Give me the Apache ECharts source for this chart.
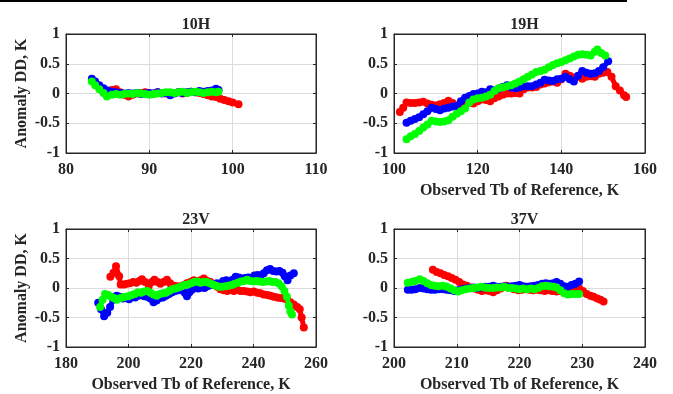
<!DOCTYPE html>
<html><head><meta charset="utf-8">
<script src="https://cdn.jsdelivr.net/npm/echarts@6/dist/echarts.min.js"></script>
<style>html,body{margin:0;padding:0;background:#fff}#c{width:673px;height:394px}</style>
</head><body><div id="c"></div>
<script>
const panelTitles = ['10H', '19H', '23V', '37V'];
const xRanges = [[80, 110, 10], [100, 160, 20], [180, 260, 20], [200, 240, 10]];
const yRange = [-1, 1, 0.5];
const xName = 'Observed Tb of Reference, K';
const yName = 'Anomaly DD, K';

// 10H
const red10H = [[84.5,0.02],[85,0.04],[85.5,0.06],[86,0.07],[86.5,0.02],[87,-0.02],[87.5,-0.05],[88,-0.02],[88.5,0.0],[89,0.01],[89.5,0.02],[90,-0.01],[90.5,0.0],[91,0.02],[91.5,0.01],[92,0.0],[92.5,-0.01],[93,0.01],[93.5,0.02],[94,0.0],[94.5,0.01],[95,0.03],[95.5,0.02],[96,0.01],[96.5,-0.01],[97,-0.03],[97.5,-0.05],[98,-0.06],[98.5,-0.09],[99,-0.11],[99.5,-0.13],[100,-0.15],[100.7,-0.18]];
const blue10H = [[83.1,0.25],[83.5,0.2],[84,0.14],[84.5,0.09],[85,0.05],[85.5,0.03],[86,0.02],[86.5,0.01],[87,0.0],[87.5,0.01],[88,0.0],[88.5,0.01],[89,-0.01],[89.5,0.0],[90,0.01],[90.5,0.0],[91,0.02],[91.5,0.0],[92,0.01],[92.5,-0.03],[93,0.0],[93.5,0.02],[94,0.01],[94.5,0.02],[95,0.03],[95.5,0.02],[96,0.04],[96.5,0.03],[97,0.04],[97.5,0.05],[98,0.08],[98.3,0.06]];
const green10H = [[83.1,0.2],[83.5,0.14],[84,0.07],[84.5,0.01],[84.9,-0.05],[85.5,-0.02],[86,-0.01],[86.5,-0.02],[87,-0.01],[87.5,0.0],[88,-0.01],[88.5,0.01],[89,0.0],[89.5,-0.01],[90,-0.02],[90.5,-0.01],[91,0.0],[91.5,0.01],[92,0.02],[92.5,0.02],[93,0.01],[93.5,0.02],[94,0.03],[94.5,0.01],[95,0.02],[95.5,0.03],[96,0.02],[96.5,0.01],[97,0.02],[97.5,0.03],[98,0.02],[98.3,0.03]];

// 19H
const red19H = [[101.4,-0.31],[102.2,-0.24],[103,-0.15],[104,-0.16],[105,-0.16],[106,-0.15],[107,-0.14],[108,-0.17],[109,-0.19],[110,-0.2],[111,-0.18],[112,-0.16],[113,-0.12],[114,-0.16],[115,-0.2],[116,-0.2],[117,-0.18],[118,-0.15],[119,-0.17],[120,-0.13],[121,-0.1],[122,-0.11],[123,-0.13],[124,-0.08],[125,-0.05],[126,-0.02],[127,0.0],[128,0.0],[129,0.01],[130,0.0],[131,0.07],[132,0.1],[133,0.1],[134,0.11],[135,0.15],[136,0.17],[137,0.19],[138,0.2],[139,0.18],[140,0.24],[141,0.33],[142,0.3],[143,0.27],[144,0.28],[145,0.25],[146,0.28],[147,0.29],[148,0.28],[149,0.33],[150,0.35],[151,0.36],[152,0.28],[153,0.12],[154,0.05],[155,-0.03],[155.5,-0.06]];
const blue19H = [[103,-0.49],[104,-0.46],[105,-0.43],[106,-0.4],[107,-0.35],[108,-0.3],[109,-0.24],[110,-0.26],[111,-0.28],[112,-0.25],[113,-0.24],[114,-0.22],[115,-0.21],[116,-0.13],[117,-0.07],[118,-0.04],[119,-0.01],[120,0.0],[121,0.03],[122,0.02],[123,0.07],[124,0.05],[125,0.08],[126,0.11],[127,0.14],[128,0.1],[129,0.09],[130,0.1],[131,0.12],[132,0.12],[133,0.12],[134,0.15],[135,0.18],[136,0.23],[137,0.22],[138,0.21],[139,0.24],[140,0.25],[141,0.28],[142,0.24],[143,0.2],[144,0.3],[145,0.38],[146,0.35],[147,0.33],[148,0.34],[149,0.38],[150,0.44],[151.2,0.54]];
const green19H = [[103,-0.77],[104,-0.72],[105,-0.68],[106,-0.63],[107,-0.57],[108,-0.52],[109,-0.46],[110,-0.47],[111,-0.48],[112,-0.47],[113,-0.45],[114,-0.39],[115,-0.34],[116,-0.3],[117,-0.25],[118,-0.15],[119,-0.1],[120,-0.08],[121,-0.07],[122,-0.05],[123,-0.02],[124,0.04],[125,0.09],[126,0.1],[127,0.12],[128,0.14],[129,0.17],[130,0.2],[131,0.24],[132,0.28],[133,0.32],[134,0.36],[135,0.38],[136,0.4],[137,0.44],[138,0.48],[139,0.51],[140,0.53],[141,0.56],[142,0.59],[143,0.62],[144,0.65],[145,0.66],[146,0.65],[147,0.64],[148,0.7],[148.6,0.74],[149.5,0.68],[150.5,0.64]];

// 23V
const red23V = [[194.2,0.19],[195.2,0.26],[196,0.37],[197,0.2],[197.5,0.06],[198.5,0.06],[199.5,0.07],[200.5,0.08],[201.5,0.1],[202.5,0.09],[203.5,0.12],[204.3,0.15],[205.3,0.1],[206.5,0.04],[207.5,0.1],[208.3,0.14],[209.3,0.1],[210.2,0.07],[211.2,0.1],[212.3,0.14],[213.3,0.08],[214.5,0.04],[215.5,0.03],[216.6,0.03],[217.7,0.05],[218.7,0.08],[219.8,0.1],[220.9,0.13],[222,0.12],[223,0.13],[224.1,0.16],[225.2,0.12],[226.2,0.1],[227.3,0.06],[228.4,0.02],[229.4,-0.02],[230.5,-0.04],[231.6,-0.05],[232.6,-0.03],[233.7,-0.05],[234.8,-0.03],[235.8,-0.05],[236.9,-0.05],[238,-0.06],[239,-0.07],[240.1,-0.06],[241.2,-0.08],[242.2,-0.09],[243.3,-0.11],[244.4,-0.12],[245.4,-0.13],[246.5,-0.15],[247.6,-0.16],[248.6,-0.17],[249.7,-0.18],[250.8,-0.2],[251.8,-0.24],[252.9,-0.28],[254,-0.32],[254.8,-0.36],[255.4,-0.5],[256.1,-0.67]];
const blue23V = [[190.3,-0.25],[191.2,-0.36],[192.2,-0.48],[193.2,-0.42],[194.1,-0.32],[195.1,-0.2],[196.2,-0.13],[197.2,-0.15],[198.2,-0.18],[199.2,-0.17],[200.2,-0.19],[201.1,-0.15],[202.1,-0.16],[203.1,-0.13],[204,-0.12],[205,-0.14],[206,-0.15],[207,-0.18],[208,-0.24],[209,-0.21],[210,-0.17],[211,-0.16],[212,-0.13],[213,-0.1],[214,-0.07],[215,-0.05],[216,-0.04],[217,-0.03],[218,-0.08],[218.7,-0.14],[219.5,-0.07],[220.3,-0.03],[221.3,0.0],[222.3,-0.01],[223.3,0.01],[224.3,0.0],[225.3,0.03],[226.3,0.05],[227.3,0.06],[228.3,0.08],[229.3,0.07],[230.3,0.12],[231.3,0.13],[232.3,0.1],[233.3,0.14],[234.3,0.19],[235.3,0.18],[236.3,0.16],[237.3,0.17],[238.3,0.18],[239.3,0.17],[240.3,0.21],[241.3,0.22],[242.3,0.21],[243.3,0.25],[244.3,0.3],[245.3,0.32],[246.3,0.29],[247.3,0.28],[248.3,0.29],[249.3,0.26],[250,0.2],[250.9,0.13],[251.8,0.21],[252.9,0.25]];
const green23V = [[190.9,-0.32],[191.7,-0.2],[192.5,-0.1],[193.5,-0.12],[194.4,-0.15],[195.3,-0.17],[196.2,-0.2],[197.1,-0.18],[198,-0.16],[199,-0.15],[200,-0.14],[201,-0.12],[202,-0.1],[203,-0.07],[204,-0.08],[205,-0.06],[206,-0.05],[207,-0.08],[208,-0.11],[209,-0.13],[210,-0.1],[211,-0.09],[212,-0.08],[213,-0.05],[214,-0.02],[215,-0.01],[216,0.01],[217,0.03],[218,0.05],[219,0.06],[220,0.08],[221,0.1],[222,0.11],[223,0.09],[224,0.1],[225,0.1],[226,0.08],[227,0.06],[228,0.04],[229,0.02],[230,0.02],[231,0.03],[232,0.04],[233,0.05],[234,0.07],[235,0.09],[236,0.11],[237,0.12],[238,0.14],[239,0.12],[240,0.11],[241,0.12],[242,0.11],[243,0.1],[244,0.11],[245,0.12],[246,0.1],[247,0.1],[248,0.08],[249,0.03],[249.9,-0.05],[250.7,-0.15],[251.3,-0.3],[251.8,-0.4],[252.3,-0.45]];

// 37V
const red37V = [[206.2,0.31],[206.8,0.27],[207.4,0.25],[208,0.22],[208.6,0.2],[209.2,0.17],[209.8,0.14],[210.4,0.1],[211,0.06],[211.6,0.04],[212.2,0.01],[212.8,-0.01],[213.4,-0.03],[214,-0.05],[214.6,-0.04],[215.2,-0.05],[215.8,-0.07],[216.4,-0.04],[217,-0.01],[217.9,0.04],[218.5,0.01],[219.1,-0.02],[219.8,-0.04],[220.4,-0.03],[221,-0.02],[221.6,-0.03],[222.2,-0.04],[222.8,-0.03],[223.4,-0.04],[224,-0.05],[224.6,-0.04],[225.2,-0.05],[225.9,-0.06],[226.5,-0.05],[227.1,-0.06],[227.7,-0.05],[228.3,-0.04],[228.9,-0.03],[229.5,-0.01],[230.1,-0.05],[230.7,-0.1],[231.3,-0.13],[231.8,-0.15],[232.4,-0.18],[232.9,-0.2],[233.4,-0.23]];
const blue37V = [[202.2,-0.03],[202.8,-0.03],[203.4,-0.02],[204.1,0.0],[204.7,-0.01],[205.3,-0.02],[205.9,-0.03],[206.5,-0.03],[207.1,-0.02],[207.8,-0.02],[208.4,-0.03],[209,-0.04],[209.6,-0.05],[210.2,-0.04],[210.8,-0.02],[211.4,-0.01],[212.1,0.0],[212.7,0.01],[213.3,0.0],[213.9,0.01],[214.5,0.02],[215.1,0.02],[215.8,0.04],[216.4,0.02],[217,0.02],[217.6,0.03],[218.2,0.02],[218.8,0.03],[219.4,0.04],[220,0.05],[220.6,0.03],[221.2,0.02],[221.8,0.03],[222.4,0.04],[223,0.05],[223.6,0.07],[224.2,0.08],[224.8,0.07],[225.4,0.08],[225.9,0.1],[226.5,0.07],[227.1,0.03],[227.7,0.02],[228.3,0.05],[228.9,0.07],[229.5,0.11]];
const green37V = [[202.2,0.09],[202.8,0.1],[203.4,0.12],[204.1,0.15],[204.7,0.12],[205.3,0.08],[205.9,0.05],[206.5,0.04],[207.1,0.03],[207.8,0.04],[208.4,0.02],[209,-0.01],[209.6,-0.04],[210.2,-0.06],[210.8,-0.04],[211.4,-0.02],[212.1,-0.01],[212.7,0.0],[213.3,0.01],[213.9,0.02],[214.5,0.01],[215.1,0.0],[215.8,0.0],[216.4,0.01],[217,0.01],[217.6,0.02],[218.2,0.0],[218.8,0.0],[219.4,-0.01],[220,-0.02],[220.6,-0.01],[221.2,-0.02],[221.8,-0.01],[222.4,-0.02],[223,0.0],[223.6,0.03],[224.2,0.04],[224.8,0.03],[225.4,0.02],[225.9,0.01],[226.5,-0.04],[227.1,-0.09],[227.7,-0.11],[228.3,-0.1],[228.9,-0.1],[229.5,-0.1]];

const panelData = [
  [red10H, blue10H, green10H],
  [red19H, blue19H, green19H],
  [red23V, blue23V, green23V],
  [red37V, blue37V, green37V]
];
const colors = ['#ff0000', '#0000ff', '#00ff00'];

const FONT = '"Liberation Serif", "Times New Roman", serif';
const AX = '#262626';
const grids = [
  {left: 66, top: 34, width: 250, height: 119},
  {left: 394, top: 34, width: 251, height: 119},
  {left: 66, top: 229, width: 250, height: 118},
  {left: 394, top: 229, width: 251, height: 118}
];
const showXName = [false, true, true, true];
const showYName = [true, false, true, false];

const xAxis = [], yAxis = [], series = [], title = [];
grids.forEach((g, i) => {
  g.show = true; g.borderColor = AX; g.borderWidth = 1; g.backgroundColor = '#fff';
  const [mn, mx, iv] = xRanges[i];
  xAxis.push({
    type: 'value', gridIndex: i, min: mn, max: mx, interval: iv, position: 'bottom',
    name: showXName[i] ? xName : '', nameLocation: 'middle', nameGap: 30,
    nameTextStyle: {fontFamily: FONT, fontWeight: 'bold', fontSize: 16, color: AX},
    axisLine: {show: true, onZero: false, lineStyle: {color: AX}},
    axisTick: {show: true, inside: true, length: 3, lineStyle: {color: AX}},
    axisLabel: {fontFamily: FONT, fontWeight: 'bold', fontSize: 16, color: AX, margin: 9},
    splitLine: {show: true, lineStyle: {color: '#dcdcdc', width: 1}}
  });
  xAxis.push({
    type: 'value', gridIndex: i, min: mn, max: mx, interval: iv, position: 'top',
    axisLine: {show: true, onZero: false, lineStyle: {color: AX}},
    axisTick: {show: true, inside: true, length: 3, lineStyle: {color: AX}},
    axisLabel: {show: false}, splitLine: {show: false}
  });
  yAxis.push({
    type: 'value', gridIndex: i, min: yRange[0], max: yRange[1], interval: yRange[2], position: 'left',
    name: showYName[i] ? yName : '', nameLocation: 'middle', nameGap: 36,
    nameTextStyle: {fontFamily: FONT, fontWeight: 'bold', fontSize: 16, color: AX},
    axisLine: {show: true, onZero: false, lineStyle: {color: AX}},
    axisTick: {show: true, inside: true, length: 3, lineStyle: {color: AX}},
    axisLabel: {fontFamily: FONT, fontWeight: 'bold', fontSize: 16, color: AX, margin: 6},
    splitLine: {show: true, lineStyle: {color: '#dcdcdc', width: 1}}
  });
  yAxis.push({
    type: 'value', gridIndex: i, min: yRange[0], max: yRange[1], interval: yRange[2], position: 'right',
    axisLine: {show: true, onZero: false, lineStyle: {color: AX}},
    axisTick: {show: true, inside: true, length: 3, lineStyle: {color: AX}},
    axisLabel: {show: false}, splitLine: {show: false}
  });
  title.push({
    text: panelTitles[i], left: g.left + g.width / 2, top: g.top - 22, textAlign: 'center',
    textStyle: {fontFamily: FONT, fontWeight: 'bold', fontSize: 16, color: AX}
  });
  panelData[i].forEach((d, k) => {
    series.push({
      type: 'line', xAxisIndex: 2 * i, yAxisIndex: 2 * i, data: d,
      symbol: 'circle', symbolSize: 8, showSymbol: true,
      lineStyle: {color: colors[k], width: 5},
      itemStyle: {color: colors[k], borderWidth: 0},
      z: 2 + k, animation: false, clip: true
    });
  });
});

const chart = echarts.init(document.getElementById('c'), null, {renderer: 'canvas'});
chart.setOption({
  animation: false,
  backgroundColor: '#fff',
  title, grid: grids, xAxis, yAxis, series,
  graphic: [{type: 'rect', shape: {x: 0, y: 0, width: 627, height: 2}, style: {fill: '#000'}}]
});
</script></body></html>
